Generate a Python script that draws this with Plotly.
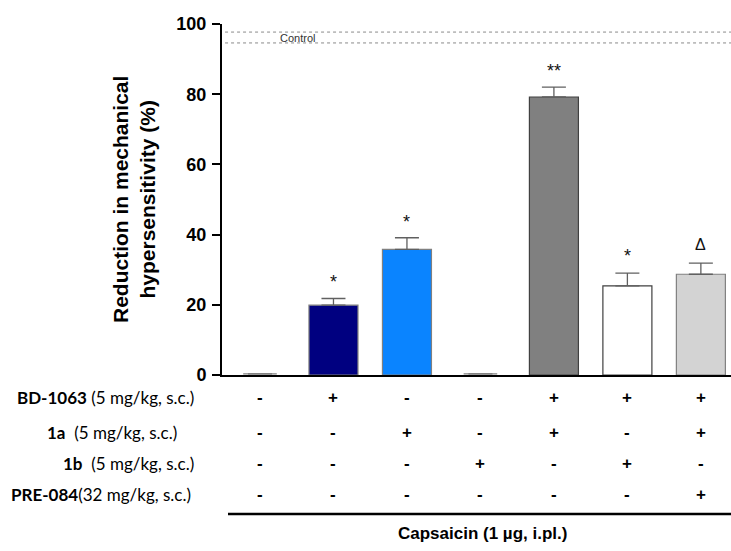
import plotly.graph_objects as go

# ---- data ----
groups = ["G1", "G2", "G3", "G4", "G5", "G6", "G7"]
values = [0.3, 19.9, 35.8, 0.3, 79.2, 25.4, 28.7]
errors = [0.0, 1.9, 3.3, 0.0, 2.8, 3.6, 3.2]
fill_colors = ["#ffffff", "#000080", "#0A84FF", "#ffffff", "#808080", "#ffffff", "#D3D3D3"]
line_colors = ["#808080", "#808080", "#808080", "#808080", "#404040", "#404040", "#808080"]
line_widths = [0, 1.2, 1.2, 0, 1.2, 1.2, 1.2]
sig_marks = ["", "*", "*", "", "**", "*", "Δ"]
sig_y = [0, 26.5, 43.5, 0, 86.6, 33.9, 37.2]

control_low = 94.6
control_high = 97.7

row_labels = [
    "<b>BD-1063</b> (5 mg/kg, s.c.)",
    "<b>1a</b>  (5 mg/kg, s.c.)",
    "<b>1b</b>  (5 mg/kg, s.c.)",
    "<b>PRE-084</b>(32 mg/kg, s.c.)",
]
table = [
    ["-", "+", "-", "-", "+", "+", "+"],
    ["-", "-", "+", "-", "+", "-", "+"],
    ["-", "-", "-", "+", "-", "+", "-"],
    ["-", "-", "-", "-", "-", "-", "+"],
]
x_title = "<b>Capsaicin (1 µg, i.pl.)</b>"
y_title = "<b>Reduction in mechanical<br>hypersensitivity (%)</b>"
y_ticks = [0, 20, 40, 60, 80, 100]

# ---- layout geometry ----
W, H = 731, 551
ML, MR, MT, MB = 222, 0, 24, 176
plot_h = H - MT - MB
plot_w = W - ML - MR

def py(px):
    """pixel y -> paper y"""
    return (H - MB - px) / plot_h

def px_(x):
    """pixel x -> paper x"""
    return (x - ML) / plot_w

xs = list(range(len(groups)))

fig = go.Figure()
fig.add_trace(go.Bar(
    x=xs, y=values, width=0.667,
    marker=dict(color=fill_colors, line=dict(color=line_colors, width=line_widths)),
    error_y=dict(type="data", symmetric=False, array=errors,
                 arrayminus=[0] * len(errors), color="#606060",
                 thickness=1.3, width=12),
    showlegend=False,
))
fig.add_trace(go.Scatter(
    x=[xs[i] for i in range(len(xs)) if errors[i] == 0],
    y=[values[i] for i in range(len(xs)) if errors[i] == 0],
    mode="markers",
    marker=dict(symbol="line-ew", size=24, line=dict(color="#808080", width=1.3)),
    showlegend=False, hoverinfo="skip",
))

for v in (control_low, control_high):
    fig.add_shape(type="line", xref="paper", yref="y", x0=0.006, x1=1, y0=v, y1=v,
                  line=dict(color="#8a8a8a", width=1, dash="dot"))

annotations = []
annotations.append(dict(x=px_(297), xref="paper", xanchor="center",
                        y=(control_low + control_high) / 2, yref="y", yanchor="middle",
                        text="Control", showarrow=False,
                        font=dict(family="Arial", size=11, color="#333")))

for i, m in enumerate(sig_marks):
    if m:
        annotations.append(dict(x=xs[i], y=sig_y[i], xref="x", yref="y", text=m,
                                showarrow=False, xanchor="center", yanchor="middle",
                                font=dict(family="Arial", size=18 if m != "Δ" else 16,
                                          color="#111")))

row_px = [397, 432, 463, 494]
row_right = [196, 179, 196, 193]
for r, lab in enumerate(row_labels):
    annotations.append(dict(x=px_(row_right[r]), xref="paper", y=py(row_px[r]),
                            yref="paper", text=lab, showarrow=False, xanchor="right",
                            yanchor="middle",
                            font=dict(family="Lato", size=17, color="black")))
    for i, s in enumerate(table[r]):
        annotations.append(dict(x=xs[i], xref="x", y=py(row_px[r]), yref="paper",
                                text=s, showarrow=False, xanchor="center", yanchor="middle",
                                font=dict(family="Arial", size=17, color="black",
                                          weight="bold")))

annotations.append(dict(x=px_(482), xref="paper", xanchor="center", y=py(533), yref="paper",
                        yanchor="middle", text=x_title, showarrow=False,
                        font=dict(family="Arial", size=17, color="black")))
annotations.append(dict(x=px_(134), xref="paper", xanchor="center", y=py(200), yref="paper",
                        yanchor="middle", text=y_title, showarrow=False, textangle=-90,
                        font=dict(family="Arial", size=21, color="black")))

fig.add_shape(type="line", xref="paper", yref="paper",
              x0=px_(228), x1=1, y0=py(514), y1=py(514),
              line=dict(color="black", width=2.5))

fig.update_layout(
    width=W, height=H,
    margin=dict(l=ML, r=MR, t=MT, b=MB),
    paper_bgcolor="white", plot_bgcolor="white",
    annotations=annotations,
    xaxis=dict(range=[-0.517, 6.41], showticklabels=False, ticks="",
               showline=True, linecolor="black", linewidth=2, showgrid=False,
               zeroline=False, fixedrange=True),
    yaxis=dict(range=[0, 100], tickvals=y_ticks, ticks="outside", ticklen=8,
               tickwidth=2, tickcolor="black", showline=True, linecolor="black",
               linewidth=2, showgrid=False, zeroline=False,
               tickfont=dict(family="Arial", size=18, color="black", weight="bold"),
               ticklabelstandoff=2),
    font=dict(family="Arial"),
)

fig.write_html("out.html")
